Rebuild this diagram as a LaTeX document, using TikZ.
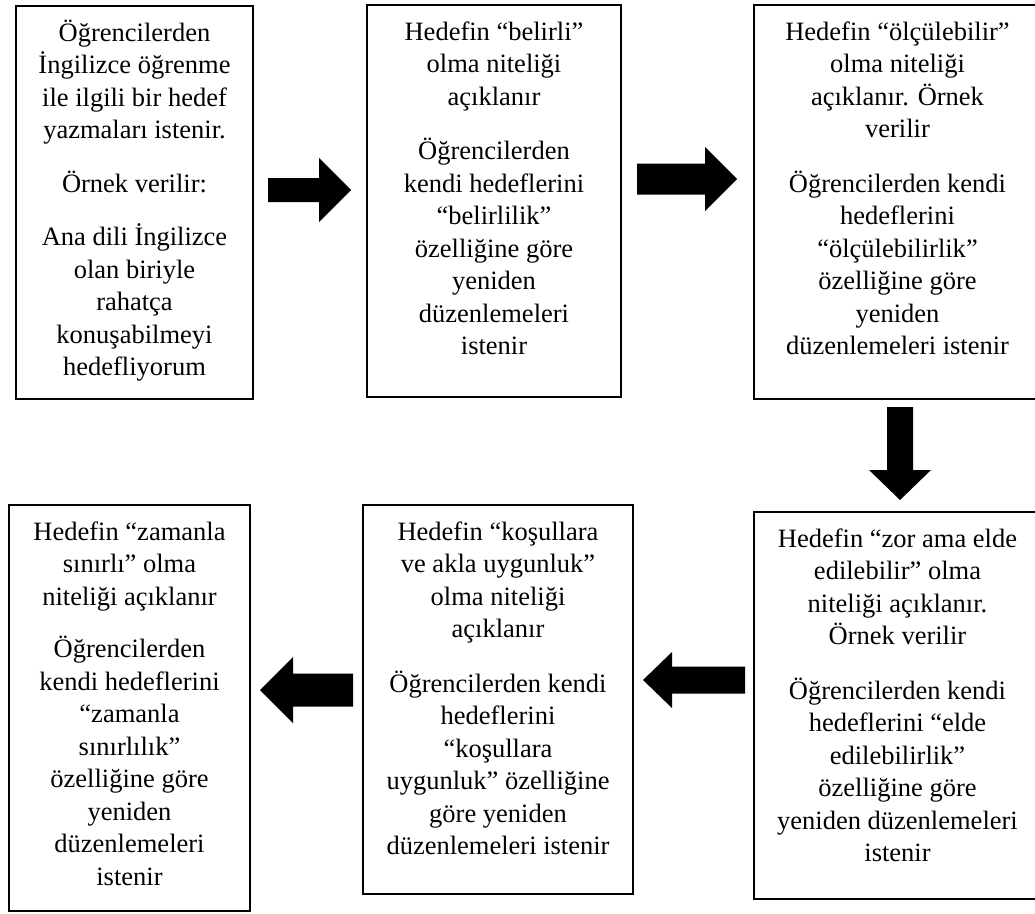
\documentclass[tikz,border=0pt]{standalone}
\usepackage{fontspec}
\setmainfont{Liberation Serif}

% Filled block arrow: tail point, direction angle, total length,
% head length, shaft width, head width
\newcommand{\blockarrow}[6]{%
  \fill[shift={#1}, rotate=#2]
    (0,-#5/2) -- (#3-#4,-#5/2) -- (#3-#4,-#6/2) -- (#3,0)
    -- (#3-#4,#6/2) -- (#3-#4,#5/2) -- (0,#5/2) -- cycle;}

\tikzset{
  frame/.style={draw=black, line width=2pt, inner sep=0pt, anchor=north west},
  boxtext/.style={anchor=north, inner sep=0pt, align=center,
    font=\fontsize{26.5}{32.5}\selectfont},
}
\newcommand{\firstline}{\rule{0pt}{27pt}}

\begin{document}
\begin{tikzpicture}[x=1pt, y=-1pt]
  \useasboundingbox (0,0) rectangle (1035,913);
  \clip (0,0) rectangle (1035,913);

  % frames
  \node[frame, minimum width=237pt, minimum height=393pt] (b1) at (15,5) {};
  \node[frame, minimum width=254pt, minimum height=392pt] (b2) at (366,4) {};
  \node[frame, minimum width=287pt, minimum height=394pt] (b3) at (753,4) {};
  \node[frame, minimum width=287pt, minimum height=387pt] (b4) at (753,511) {};
  \node[frame, minimum width=270pt, minimum height=389pt] (b5) at (362,504) {};
  \node[frame, minimum width=241pt, minimum height=406pt] (b6) at (8,504) {};

  % texts
  \node[boxtext] (t1) at ([yshift=-9pt]b1.north) {\firstline Öğrencilerden\\
    İngilizce öğrenme\\ ile ilgili bir hedef\\ yazmaları istenir.\\[21pt]
    Örnek verilir:\\[21pt]
    Ana dili İngilizce\\ olan biriyle\\ rahatça\\ konuşabilmeyi\\ hedefliyorum};
  \node[boxtext] (t2) at ([yshift=-9pt]b2.north) {\firstline Hedefin “belirli”\\
    olma niteliği\\ açıklanır\\[22pt]
    Öğrencilerden\\ kendi hedeflerini\\ “belirlilik”\\ özelliğine göre\\
    yeniden\\ düzenlemeleri\\ istenir};
  \node[boxtext] (t3) at ([yshift=-9pt]b3.north) {\firstline Hedefin “ölçülebilir”\\
    olma niteliği\\ açıklanır. Örnek\\ verilir\\[22pt]
    Öğrencilerden kendi\\ hedeflerini\\ “ölçülebilirlik”\\ özelliğine göre\\
    yeniden\\ düzenlemeleri istenir};
  \node[boxtext] (t4) at ([yshift=-9pt]b4.north) {\firstline Hedefin “zor ama elde\\
    edilebilir” olma\\ niteliği açıklanır.\\ Örnek verilir\\[22pt]
    Öğrencilerden kendi\\ hedeflerini “elde\\ edilebilirlik”\\ özelliğine göre\\
    yeniden düzenlemeleri\\ istenir};
  \node[boxtext] (t5) at ([yshift=-9pt]b5.north) {\firstline Hedefin “koşullara\\
    ve akla uygunluk”\\ olma niteliği\\ açıklanır\\[22pt]
    Öğrencilerden kendi\\ hedeflerini\\ “koşullara\\ uygunluk” özelliğine\\
    göre yeniden\\ düzenlemeleri istenir};
  \node[boxtext] (t6) at ([yshift=-9pt]b6.north) {\firstline Hedefin “zamanla\\
    sınırlı” olma\\ niteliği açıklanır\\[20pt]
    Öğrencilerden\\ kendi hedeflerini\\ “zamanla\\ sınırlılık”\\ özelliğine göre\\
    yeniden\\ düzenlemeleri\\ istenir};

  % block arrows between the frames
  \blockarrow{(268,190)}{0}{83}{32}{24}{64}
  \blockarrow{(637,179)}{0}{100}{32}{31}{64}
  \blockarrow{(900,407)}{-90}{93}{30}{26}{62}
  \blockarrow{(745,680)}{180}{102}{29}{27}{56}
  \blockarrow{(353,690)}{180}{93}{33}{33}{66}
\end{tikzpicture}
\end{document}
